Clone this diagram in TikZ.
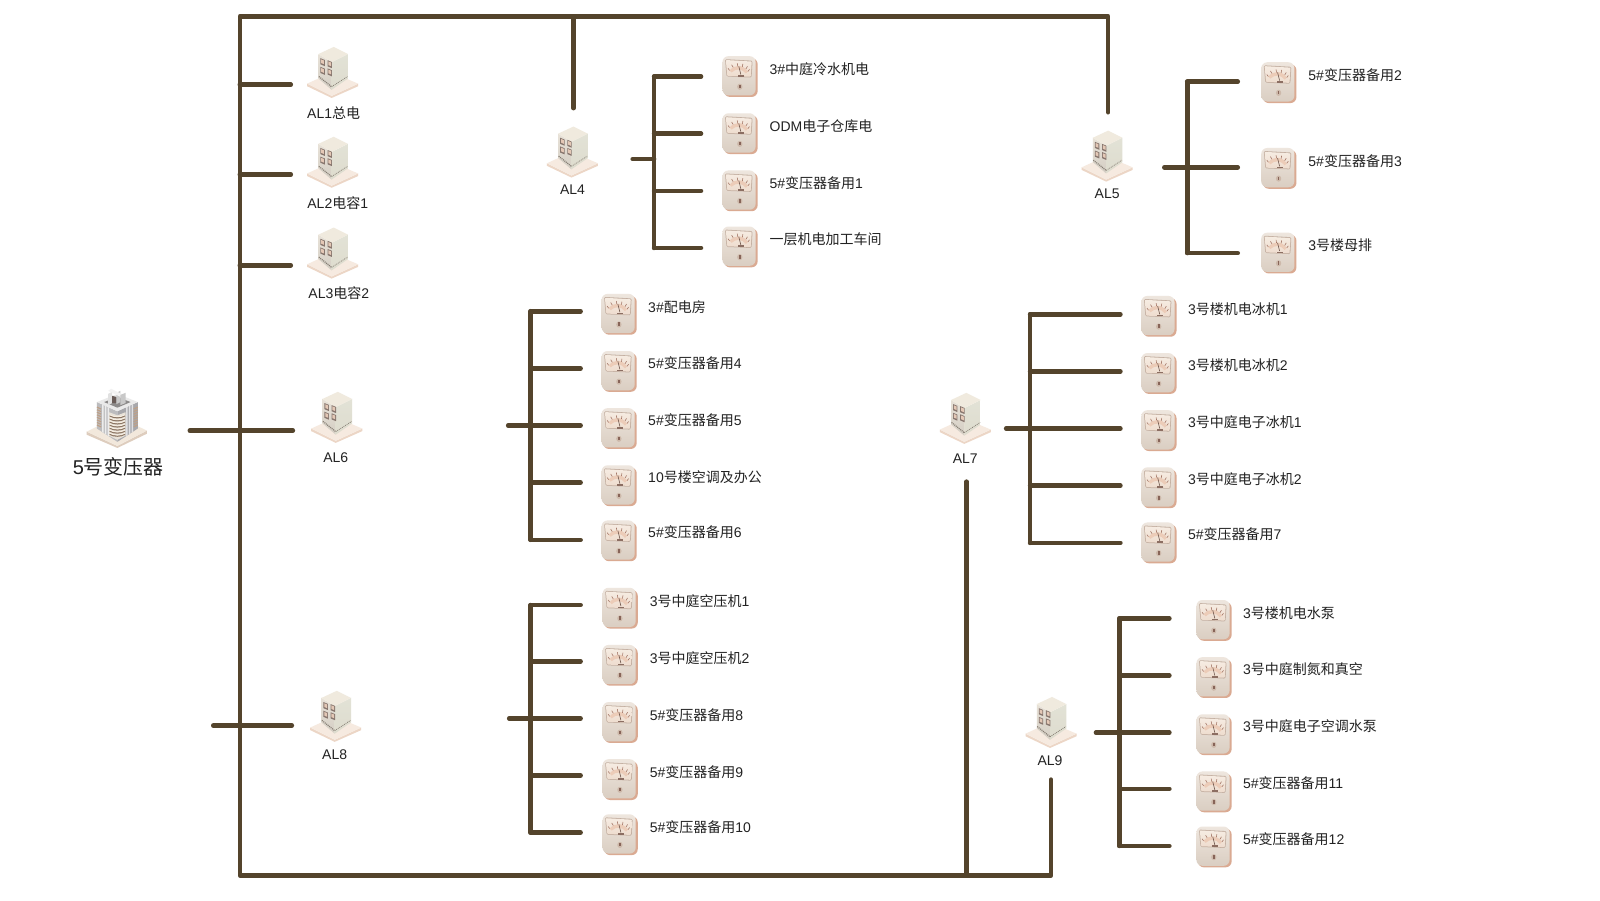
\documentclass[tikz,border=0pt]{standalone}
\usepackage{fontspec}
\setmainfont{Liberation Sans}
\newfontfamily\cjfont{Noto Sans CJK SC}
\newcommand\cj[1]{{\cjfont #1}}
\definecolor{busc}{HTML}{54442C}
\definecolor{txt}{HTML}{222222}
\definecolor{mShadow}{RGB}{218,170,146}
\definecolor{mTop}{RGB}{238,230,222}
\definecolor{mBot}{RGB}{218,206,194}
\definecolor{mFrame}{RGB}{196,176,162}
\definecolor{mWinT}{RGB}{246,236,226}
\definecolor{mWinB}{RGB}{238,220,206}
\definecolor{mFan}{RGB}{236,204,184}
\definecolor{mTick}{RGB}{165,120,104}
\definecolor{mNeedle}{RGB}{110,85,75}
\definecolor{mBar}{RGB}{140,110,98}
\definecolor{mKnobA}{RGB}{205,185,170}
\definecolor{mKnobB}{RGB}{135,100,88}
\definecolor{cBaseS}{RGB}{236,214,198}
\definecolor{cBase}{RGB}{246,234,224}
\definecolor{cLT}{RGB}{232,226,216}
\definecolor{cLB}{RGB}{212,206,196}
\definecolor{cRT}{RGB}{226,226,214}
\definecolor{cRB}{RGB}{222,220,206}
\definecolor{cTop}{RGB}{240,234,222}
\definecolor{cWin}{RGB}{135,118,110}
\definecolor{cWinI}{RGB}{228,200,182}
\definecolor{cDot}{RGB}{130,122,112}
\definecolor{xBaseS}{RGB}{222,205,190}
\definecolor{xBase}{RGB}{242,232,220}
\definecolor{xL}{RGB}{188,188,190}
\definecolor{xR}{RGB}{168,168,172}
\definecolor{xFinL}{RGB}{236,236,236}
\definecolor{xFinR}{RGB}{224,224,226}
\definecolor{xTick}{RGB}{190,160,135}
\definecolor{xCore}{RGB}{232,226,216}
\definecolor{xCoilD}{RGB}{140,118,100}
\definecolor{xCoilL}{RGB}{246,238,226}
\definecolor{xTop}{RGB}{234,234,234}
\definecolor{xHole}{RGB}{140,138,138}
\definecolor{xPost}{RGB}{225,225,225}
\definecolor{xDark}{RGB}{105,92,88}
\definecolor{xPostB}{RGB}{200,200,200}
\definecolor{xPostC}{RGB}{242,242,242}
\tikzset{
  bus/.style={draw=busc,line width=3.4pt,line cap=round,line join=round},
  lab/.style={text=txt,font=\fontsize{10.5pt}{12pt}\selectfont,inner sep=0pt,text height=9.2pt,text depth=1.3pt},
  leaflab/.style={lab,anchor=west},
  biglab/.style={text=txt,font=\fontsize{15pt}{17pt}\selectfont,inner sep=0pt,text height=13.2pt,text depth=1.8pt},
  pics/meter/.style={code={
    \fill[rounded corners=4.5pt,fill=mShadow] (-15.5,-18) rectangle (17.5,20);
    \shade[rounded corners=4.5pt,top color=mTop,bottom color=mBot] (-17,-20) rectangle (15.5,18.5);
    \fill[mFrame,rounded corners=1pt] (-14.5,-17) -- (12.5,-15.5) -- (11.5,1) -- (-13,0) -- cycle;
    \shade[top color=mWinT,bottom color=mWinB,rounded corners=.6pt] (-13.7,-16.2) -- (11.7,-14.7) -- (10.7,0.2) -- (-12.3,-.7) -- cycle;
    \fill[mFan] (-10,-6) .. controls (-5,-12) and (3,-12) .. (8,-5) -- (6,-3) .. controls (2,-8) and (-4,-8) .. (-8,-4) -- cycle;
    \foreach \a/\b/\c/\d in {-10/-6/-11.5/-8,-6.5/-9/-8/-11.5,-2/-10/-2.5/-13,2.5/-9.5/3/-12.5,6/-7.5/7.5/-10,8/-5/9.5/-7}
      \draw[mTick,line width=.45pt] (\a,\b) -- (\c,\d);
    \draw[mNeedle,line width=.45pt] (1,-2) -- (-1,-10);
    \fill[mBar] (-2,-1.5) rectangle (4,0);
    \fill[mKnobA] (0,10) ellipse (2.6 and 3);
    \fill[mKnobB] (-.8,8) rectangle (.8,11.5);
  }},
  pics/cabinet/.style={code={
    \fill[cBaseS] (-26,11) -- (-2,23) -- (24,11) -- (24,13.5) -- (-2,25) -- (-26,13.5) -- cycle;
    \fill[cBase] (-26,11) -- (-2,0) -- (24,11) -- (-2,23) -- cycle;
    \shade[top color=cLT,bottom color=cLB] (-15,-18) -- (-2,-10) -- (-2,17) -- (-15,6) -- cycle;
    \shade[top color=cRT,bottom color=cRB] (-2,-10) -- (14,-18) -- (14,6) -- (-2,17) -- cycle;
    \fill[cTop] (-15,-18) -- (0,-25) -- (14,-18) -- (-2,-10) -- cycle;
    \foreach \dx/\dy in {-13/-14,-6/-12,-13/-5.5,-6/-4}{
      \fill[cWin] (\dx,\dy) -- ++(4.3,1.8) -- ++(0,6) -- ++(-4.3,-1.8) -- cycle;
      \fill[cWinI] (\dx+.8,\dy+1.2) -- ++(2.7,1.1) -- ++(0,3.6) -- ++(-2.7,-1.1) -- cycle;
    }
    \draw[cDot,line width=.9pt,dash pattern=on .7pt off .7pt] (-14.5,4) -- (-2,14);
    \draw[cDot,line width=.5pt,dash pattern=on .7pt off .7pt] (-2,14) -- (13.5,4);
  }},
  pics/xformer/.style={code={
    \fill[xBaseS] (-30,15) -- (0,29) -- (29,14) -- (29,17) -- (0,31) -- (-30,18) -- cycle;
    \fill[xBase] (-30,15) -- (0,0) -- (29,14) -- (0,29) -- cycle;
    \fill[xL] (-20,-14) -- (0,-5) -- (0,25) -- (-20,12) -- cycle;
    \fill[xR] (0,-5) -- (20,-14) -- (20,12) -- (0,25) -- cycle;
    \foreach \x in {-15,-12.3,-9.6}{
      \fill[xFinL] (\x,-14+.45*\x+9) -- (\x+1.5,-14+.45*\x+9.7) -- (\x+1.5,12+.65*\x+14) -- (\x,12+.65*\x+13) -- cycle;
    }
    \foreach \x in {8.5,11.2,13.9}{
      \fill[xFinR] (\x,-5-.45*\x) -- (\x+1.5,-5-.45*\x-.7) -- (\x+1.5,25-.65*\x-1) -- (\x,25-.65*\x) -- cycle;
    }
    \foreach \y in {-9,-6.5,...,9}{
      \draw[xTick,line width=.9pt] (-20,\y) -- (-16,\y+1.8);
      \draw[xTick,line width=.9pt] (16,\y+1.8) -- (20,\y);
    }
    \fill[xCore] (-8,-4) -- (0,-1) -- (8,-4) -- (8,19) -- (0,23) -- (-8,19) -- cycle;
    \foreach \y in {-1.5,1.5,...,16.5}{
      \draw[xCoilD,line width=1pt] (-7.5,\y+1) .. controls (-3,\y+3.5) and (3,\y+3.5) .. (7.5,\y+1);
      \draw[xCoilL,line width=.7pt] (-7.5,\y) .. controls (-3,\y+2.5) and (3,\y+2.5) .. (7.5,\y);
    }
    \fill[xTop] (-20,-14) -- (0,-22) -- (20,-14) -- (0,-5) -- cycle;
    \fill[xHole] (-13,-14) -- (0,-19) -- (13,-14) -- (0,-8.5) -- cycle;
    \fill[xPost] (-9,-22) -- (-5,-24) -- (-5,-13) -- (-9,-11) -- cycle;
    \fill[xDark] (-5,-20) -- (-1,-19) -- (-1,-13) -- (-5,-13) -- cycle;
    \fill[xPostB] (-1,-23) -- (3,-25) -- (3,-14) -- (-1,-12) -- cycle;
    \fill[xPostC] (-9,-25) -- (-6,-27) -- (6,-21) -- (3,-19) -- cycle;
    \fill[xPostB] (3,-21) -- (8,-23) -- (8,-13) -- (3,-11) -- cycle;
  }},
}
\newcommand\branchgroup[8]{% name, stub x, stub y, bus x, end x, bus top, bus bottom, label x
  \coordinate (#1-stub) at (#2,#3);
  \coordinate (#1-hub) at (#4,#3);
  \coordinate (#1-top) at (#4,#6);
  \coordinate (#1-bot) at (#4,#7);
  \draw[bus] (#1-top) -- (#1-bot);
  \draw[bus] (#1-stub) -- (#1-hub);
  \def\branchend{#5}\def\branchbus{#4}\def\branchname{#1}\def\branchlab{#8}%
}
\newcommand\leafitem[6]{% index, branch y, meter x, meter y, label y, text
  \coordinate (\branchname-j#1) at (\branchbus,#2);
  \coordinate (\branchname-e#1) at (\branchend,#2);
  \draw[bus] (\branchname-j#1) -- (\branchname-e#1);
  \pic (\branchname-m#1) at (#3+1,#4) {meter};
  \node[leaflab] (\branchname-t#1) at (\branchlab,#5) {#6};
}
\begin{document}
\begin{tikzpicture}[x=0.7653pt,y=-0.7653pt]
\useasboundingbox (0,0) rectangle (1568,882);
\fill[white] (0,0) rectangle (1568,882);
% main buses
\coordinate (mainTL) at (235,16);
\coordinate (mainBL) at (235,858);
\coordinate (mainTR) at (1086,16);
\coordinate (dropR) at (1086,110);
\coordinate (topM) at (562,16);
\coordinate (dropM) at (562,106);
\coordinate (mainBR) at (1030,858);
\coordinate (riseR) at (1030,764);
\coordinate (botM) at (947,858);
\coordinate (riseM) at (947,472);
\draw[bus] (dropR) -- (mainTR) -- (mainTL) -- (mainBL) -- (mainBR) -- (riseR);
\draw[bus] (topM) -- (dropM);
\draw[bus] (botM) -- (riseM);
\foreach \n/\xa/\xb/\y in {a/235/285/83,b/235/285/171,c/235/285/260,d/186/287/422,e/209/286/711}{
  \coordinate (f\n s) at (\xa,\y);
  \coordinate (f\n e) at (\xb,\y);
  \draw[bus] (f\n s) -- (f\n e);
}
% source
\pic (src) at (115,408) {xformer};
\node[biglab] (srct) at (116,458) {5\cj{号变压器}};
% cabinets
\pic (al1) at (327,71) {cabinet};  \node[lab] (al1t) at (327,111) {AL1\cj{总电}};
\pic (al2) at (327,159) {cabinet}; \node[lab] (al2t) at (331,199) {AL2\cj{电容}1};
\pic (al3) at (327,248) {cabinet}; \node[lab] (al3t) at (332,287) {AL3\cj{电容}2};
\pic (al4) at (562,149) {cabinet}; \node[lab] (al4t) at (561,185) {AL4};
\pic (al5) at (1086,153) {cabinet};\node[lab] (al5t) at (1085,189) {AL5};
\pic (al6) at (331,409) {cabinet}; \node[lab] (al6t) at (329,448) {AL6};
\pic (al7) at (947,410) {cabinet}; \node[lab] (al7t) at (946,449) {AL7};
\pic (al8) at (330,702) {cabinet}; \node[lab] (al8t) at (328,739) {AL8};
\pic (al9) at (1031,708) {cabinet};\node[lab] (al9t) at (1029,745) {AL9};
% AL4
\branchgroup{gb}{620}{156}{641}{687}{75}{243}{754}
\leafitem{1}{75}{724}{75}{68}{3\#\cj{中庭冷水机电}}
\leafitem{2}{131}{724}{131}{124}{ODM\cj{电子仓库电}}
\leafitem{3}{187}{724}{187}{180}{5\#\cj{变压器备用}1}
\leafitem{4}{243}{724}{242}{234}{\cj{一层机电加工车间}}
% AL5
\branchgroup{gc}{1141}{164}{1163.5}{1213}{80}{248}{1282}
\leafitem{1}{80}{1252}{81}{74}{5\#\cj{变压器备用}2}
\leafitem{2}{164}{1252}{165}{158}{5\#\cj{变压器备用}3}
\leafitem{3}{248}{1252}{248}{240}{3\cj{号楼母排}}
% AL6
\branchgroup{gd}{498}{417}{520}{569}{305}{529}{635}
\leafitem{1}{305}{605.5}{308}{301}{3\#\cj{配电房}}
\leafitem{2}{361}{605.5}{364}{356}{5\#\cj{变压器备用}4}
\leafitem{3}{417}{605.5}{420}{412}{5\#\cj{变压器备用}5}
\leafitem{4}{473}{605.5}{476}{468}{10\cj{号楼空调及办公}}
\leafitem{5}{529}{605.5}{530}{522}{5\#\cj{变压器备用}6}
% AL8
\branchgroup{ge}{499}{704}{520}{569}{593}{816}{636.5}
\leafitem{1}{593}{606.5}{596}{589}{3\cj{号中庭空压机}1}
\leafitem{2}{648}{606.5}{652}{645}{3\cj{号中庭空压机}2}
\leafitem{3}{704}{606.5}{708}{701}{5\#\cj{变压器备用}8}
\leafitem{4}{760}{606.5}{764}{757}{5\#\cj{变压器备用}9}
\leafitem{5}{816}{606.5}{818}{811}{5\#\cj{变压器备用}10}
% AL7
\branchgroup{gf}{986}{420}{1009.5}{1098}{308}{532}{1164}
\leafitem{1}{308}{1134.5}{310}{303}{3\cj{号楼机电冰机}1}
\leafitem{2}{364}{1134.5}{366}{358}{3\cj{号楼机电冰机}2}
\leafitem{3}{420}{1134.5}{422}{414}{3\cj{号中庭电子冰机}1}
\leafitem{4}{476}{1134.5}{478}{470}{3\cj{号中庭电子冰机}2}
\leafitem{5}{532}{1134.5}{532}{524}{5\#\cj{变压器备用}7}
% AL9
\branchgroup{gg}{1074}{718}{1097}{1146}{606}{829}{1218}
\leafitem{1}{606}{1188.5}{608}{601}{3\cj{号楼机电水泵}}
\leafitem{2}{662}{1188.5}{664}{656}{3\cj{号中庭制氮和真空}}
\leafitem{3}{718}{1188.5}{720}{712}{3\cj{号中庭电子空调水泵}}
\leafitem{4}{773}{1188.5}{776}{768}{5\#\cj{变压器备用}11}
\leafitem{5}{829}{1188.5}{830}{822}{5\#\cj{变压器备用}12}
\end{tikzpicture}
\end{document}
